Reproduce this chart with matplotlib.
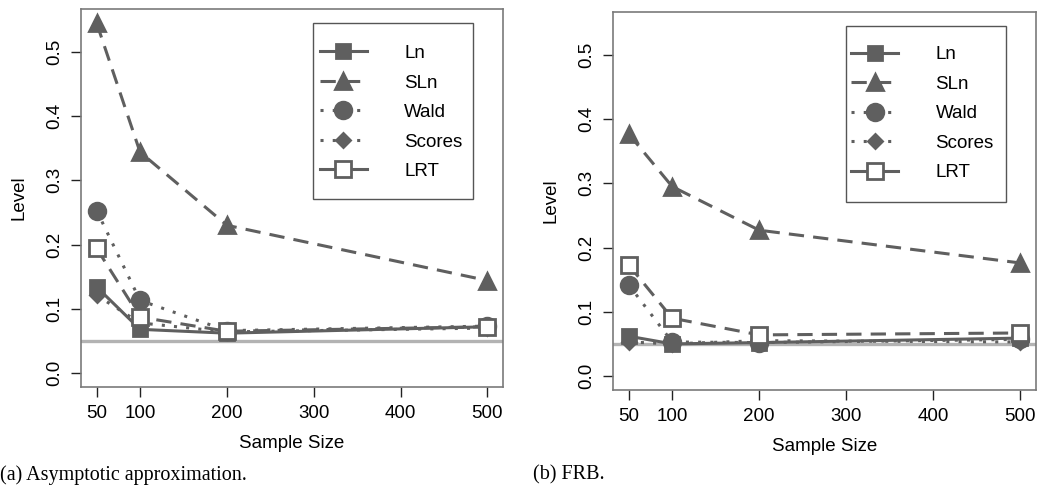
import numpy as np
import matplotlib
matplotlib.use('Agg')
import matplotlib.pyplot as plt
from matplotlib.lines import Line2D
from matplotlib.patches import Rectangle

plt.rcParams['font.family'] = ['Liberation Sans', 'DejaVu Sans']

# ----------------------------------------------------------------------- #
# data
sizes = [50, 100, 200, 500]
series = ['Ln', 'SLn', 'Wald', 'Scores', 'LRT']

# (a) asymptotic approximation
asym_ln = [0.134, 0.068, 0.062, 0.072]
asym_sln = [0.545, 0.344, 0.230, 0.144]
asym_wald = [0.253, 0.113, 0.066, 0.073]
asym_scores = [0.121, 0.078, 0.064, 0.070]
asym_lrt = [0.194, 0.087, 0.065, 0.072]

# (b) FRB
frb_ln = [0.062, 0.050, 0.052, 0.059]
frb_sln = [0.377, 0.295, 0.227, 0.176]
frb_wald = [0.142, 0.053, 0.052, 0.057]
frb_scores = [0.053, 0.050, 0.055, 0.053]
frb_lrt = [0.173, 0.090, 0.064, 0.067]

nominal = 0.05
captions = ['(a) Asymptotic approximation.', '(b) FRB.']

# ----------------------------------------------------------------------- #
col = '#5f5f5f'
styles = {
    'Ln': dict(marker='s', ls='-', ms=10, mfc=col),
    'SLn': dict(marker='^', ls=(0, (5, 3)), ms=12, mfc=col),
    'Wald': dict(marker='o', ls=(0, (1, 3)), ms=12, mfc=col),
    'Scores': dict(marker='D', ls=(0, (1, 3)), ms=7, mfc=col),
    'LRT': dict(marker='s', ls=(0, (5, 3)), ms=11, mfc='white'),
}
legend_ls = {'Ln': '-', 'SLn': (0, (5, 3)), 'Wald': (0, (1, 3)),
             'Scores': (0, (1, 3)), 'LRT': '-'}

fig = plt.figure(figsize=(10.37, 4.9), dpi=100)
ax_a = fig.add_axes([81 / 1037, 1 - 387 / 490, 422 / 1037, 378 / 490])
ax_b = fig.add_axes([613 / 1037, 1 - 390 / 490, 423 / 1037, 378 / 490])

# axes, values, legend anchor (entries), legend frame (x, y, w, h) in axes coords
panels = [
    (ax_a, [asym_ln, asym_sln, asym_wald, asym_scores, asym_lrt], (0.566, 0.905), (0.55, 0.497, 0.379, 0.467)),
    (ax_b, [frb_ln, frb_sln, frb_wald, frb_scores, frb_lrt], (0.563, 0.91), (0.551, 0.498, 0.378, 0.466)),
]

for ax, vals, anchor, frame in panels:
    ax.axhline(nominal, color='#b3b3b3', lw=2.4, zorder=1)
    for name, v in zip(series, vals):
        st = styles[name]
        ax.plot(sizes, v, color=col, lw=2.2, ls=st['ls'], marker=st['marker'],
                ms=st['ms'], mfc=st['mfc'], mec=col, mew=2, zorder=3)
    ax.set_xlim(32, 518)
    ax.set_ylim(-0.0218, 0.5668)
    ax.set_xticks([50, 100, 200, 300, 400, 500])
    ax.set_yticks([0.0, 0.1, 0.2, 0.3, 0.4, 0.5])
    ax.set_yticklabels(['0.0', '0.1', '0.2', '0.3', '0.4', '0.5'], rotation=90, va='center')
    ax.tick_params(labelsize=13.5, length=7, width=1, color='#222222', pad=6)
    for sp in ax.spines.values():
        sp.set_color('#7a7a7a')
        sp.set_linewidth(1.2)
    ax.set_xlabel('Sample Size', fontsize=13.5, labelpad=9)
    ax.set_ylabel('Level', fontsize=13.5, labelpad=13)

    # legend: R draws LRT with a solid line in the key
    handles = []
    for name in series:
        st = styles[name]
        handles.append(Line2D([], [], color=col, lw=2.2, ls=legend_ls[name],
                              marker=st['marker'], ms=st['ms'], mfc=st['mfc'],
                              mec=col, mew=2))
    ax.legend(handles, series, loc='upper left', bbox_to_anchor=anchor,
              borderaxespad=0, borderpad=0, prop={'size': 13.5}, frameon=False,
              handlelength=2.5, handletextpad=2.0, labelspacing=0.66)
    ax.add_patch(Rectangle(frame[:2], frame[2], frame[3], transform=ax.transAxes,
                           fill=False, edgecolor='#555555', lw=1.0, zorder=5))

fig.text(0.0, 1 - 475 / 490, captions[0], family='Liberation Serif', fontsize=14.5, va='center')
fig.text(533 / 1037, 1 - 475 / 490, captions[1], family='Liberation Serif', fontsize=14.5, va='center')

fig.savefig('out.png', dpi=100)
